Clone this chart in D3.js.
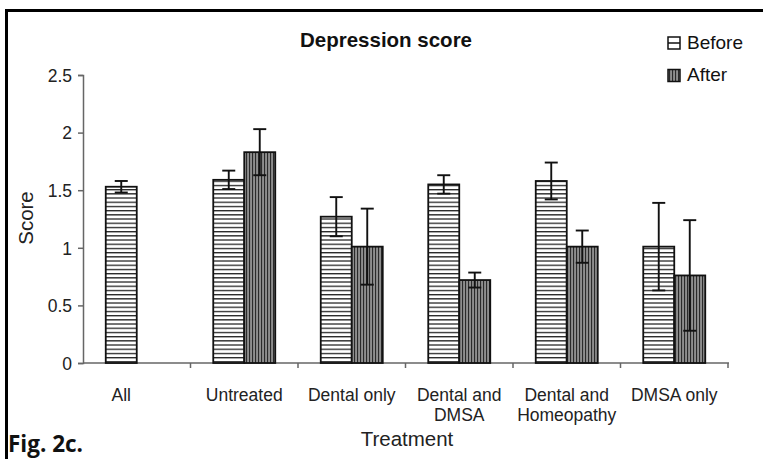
<!DOCTYPE html>
<html><head><meta charset="utf-8">
<script src="https://cdn.jsdelivr.net/npm/d3@7"></script>
<style>body{margin:0;background:#fff}svg{display:block}</style>
</head><body>
<svg id="c" width="763" height="459"></svg>
<script>
const categories = ["All","Untreated","Dental only","Dental and DMSA","Dental and Homeopathy","DMSA only"];
const categoryLines = [["All"],["Untreated"],["Dental only"],["Dental and","DMSA"],["Dental and","Homeopathy"],["DMSA only"]];
const series = ["Before","After"];
const beforeValues = [1.53,1.59,1.27,1.55,1.58,1.01];
const beforeErrors = [0.05,0.08,0.17,0.08,0.16,0.38];
const afterValues = [null,1.83,1.01,0.72,1.01,0.76];
const afterErrors = [null,0.20,0.33,0.065,0.14,0.48];
const yTicks = [0,0.5,1,1.5,2,2.5];

const svg = d3.select("#c");
const font = "'Liberation Sans', Arial, Helvetica, sans-serif";

// patterns
const defs = svg.append("defs");
const ph = defs.append("pattern").attr("id","hpat").attr("patternUnits","userSpaceOnUse").attr("width",6).attr("height",4.2);
ph.append("rect").attr("width",6).attr("height",4.2).attr("fill","#fff");
ph.append("rect").attr("y",0).attr("width",6).attr("height",1.3).attr("fill","#222");
const pv = defs.append("pattern").attr("id","vpat").attr("patternUnits","userSpaceOnUse").attr("width",3).attr("height",6);
pv.append("rect").attr("width",3).attr("height",6).attr("fill","#8e8e8e");
pv.append("rect").attr("x",0).attr("width",1.1).attr("height",6).attr("fill","#2a2a2a");

// frame (top and left)
svg.append("path").attr("d","M6.5,459 L6.5,10.5 L763,10.5").attr("fill","none").attr("stroke","#000").attr("stroke-width",3);

const x0 = d3.scaleBand().domain(categories).range([83,728]).padding(0);
const y = d3.scaleLinear().domain([0,2.5]).range([363,75]);
const barW = 31;

// y axis
const ya = svg.append("g").attr("transform","translate(83,0)")
  .call(d3.axisLeft(y).tickValues(yTicks).tickFormat(d=>String(d)).tickSize(5).tickPadding(6));
ya.select(".domain").attr("stroke","#666").attr("stroke-width",1.5);
ya.selectAll(".tick line").attr("stroke","#666").attr("stroke-width",1.5);
ya.selectAll("text").attr("font-family",font).attr("font-size",17.5).attr("fill","#222").attr("dy","0.36em");

// x axis
const xa = svg.append("g").attr("transform","translate(0,363)")
  .call(d3.axisBottom(x0).tickSize(0).tickFormat(""));
xa.select(".domain").attr("stroke","#666").attr("stroke-width",1.5).attr("d","M83,0H729");
xa.selectAll(".tick").remove();
svg.append("g").selectAll("line").data(categories).join("line")
  .attr("x1",d=>x0(d)+x0.bandwidth()).attr("x2",d=>x0(d)+x0.bandwidth())
  .attr("y1",363).attr("y2",368).attr("stroke","#666").attr("stroke-width",1.5);

// bars
const gBars = svg.append("g");
categories.forEach((c,i)=>{
  const cx = x0(c)+x0.bandwidth()/2;
  const bv = beforeValues[i];
  gBars.append("rect").attr("x",cx-barW).attr("y",y(bv)).attr("width",barW).attr("height",y(0)-y(bv))
    .attr("fill","url(#hpat)").attr("stroke","#111").attr("stroke-width",1.8);
  if(afterValues[i]!=null){
    const av = afterValues[i];
    gBars.append("rect").attr("x",cx).attr("y",y(av)).attr("width",barW).attr("height",y(0)-y(av))
      .attr("fill","url(#vpat)").attr("stroke","#111").attr("stroke-width",1.8);
  }
});
// error bars
const gErr = svg.append("g").attr("stroke","#111").attr("stroke-width",1.9);
function err(cx,v,e){
  gErr.append("line").attr("x1",cx).attr("x2",cx).attr("y1",y(v+e)).attr("y2",y(v-e));
  gErr.append("line").attr("x1",cx-6.5).attr("x2",cx+6.5).attr("y1",y(v+e)).attr("y2",y(v+e));
  gErr.append("line").attr("x1",cx-6.5).attr("x2",cx+6.5).attr("y1",y(v-e)).attr("y2",y(v-e));
}
categories.forEach((c,i)=>{
  const cx = x0(c)+x0.bandwidth()/2;
  err(cx-barW/2, beforeValues[i], beforeErrors[i]);
  if(afterValues[i]!=null) err(cx+barW/2, afterValues[i], afterErrors[i]);
});

// category labels (centered under the bars present)
categories.forEach((c,i)=>{
  const cx = x0(c)+x0.bandwidth()/2;
  const lx = afterValues[i]==null ? cx-barW/2 : cx;
  const t = svg.append("text").attr("x",lx).attr("y",401)
    .attr("text-anchor","middle").attr("font-family",font).attr("font-size",17.5).attr("fill","#222");
  categoryLines[i].forEach((l,j)=>t.append("tspan").attr("x",lx).attr("dy",j?20:0).text(l));
});

// titles
svg.append("text").attr("x",386).attr("y",47).attr("text-anchor","middle").attr("font-family",font)
  .attr("font-size",20.5).attr("font-weight","bold").attr("fill","#111").text("Depression score");
svg.append("text").attr("x",407).attr("y",446).attr("text-anchor","middle").attr("font-family",font)
  .attr("font-size",20.5).attr("fill","#222").text("Treatment");
svg.append("text").attr("transform","translate(33,218) rotate(-90)").attr("text-anchor","middle").attr("font-family",font)
  .attr("font-size",20.5).attr("fill","#222").text("Score");
svg.append("text").attr("x",8).attr("y",452).attr("font-family","'Open Sans', sans-serif")
  .attr("font-size",22.5).attr("font-weight","bold").attr("fill","#111").text("Fig. 2c.");

// legend
const leg = svg.append("g");
series.forEach((s,i)=>{
  const top = 37 + i*32.5;
  leg.append("rect").attr("x",668).attr("y",top).attr("width",12).attr("height",12)
    .attr("fill", i? "url(#vpat)":"#fff").attr("stroke","#111").attr("stroke-width",1.5);
  if(i===0){
    leg.append("line").attr("x1",668).attr("x2",680).attr("y1",top+6).attr("y2",top+6).attr("stroke","#111").attr("stroke-width",1.5);
  }
  leg.append("text").attr("x",687).attr("y",top+11.5).attr("font-family",font).attr("font-size",19).attr("fill","#111").text(s);
});
</script>
</body></html>
